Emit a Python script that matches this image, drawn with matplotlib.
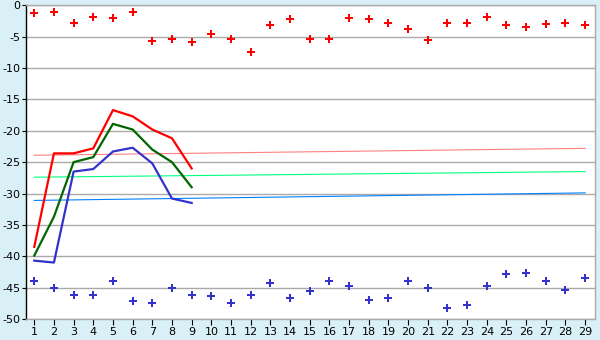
import numpy as np
import matplotlib
matplotlib.use('Agg')
from matplotlib import pyplot as plt

plt.rcParams['axes.unicode_minus'] = False

# valores
dias = list(range(1, 30))
dias_lineas = list(range(1, 10))

puntos_rojos = [-1.3, -1.1, -2.9, -1.8, -2.1, -1.0, -5.7, -5.4, -5.9, -4.5,
                -5.4, -7.5, -3.2, -2.2, -5.4, -5.4, -2.1, -2.2, -2.9, -3.7,
                -5.6, -2.9, -2.9, -1.8, -3.2, -3.5, -3.0, -2.9, -3.2]
puntos_azules = [-44.0, -45.1, -46.1, -46.2, -44.0, -47.2, -47.5, -45.1, -46.2, -46.4,
                 -47.4, -46.2, -44.2, -46.7, -45.6, -44.0, -44.7, -46.9, -46.6, -44.0,
                 -45.0, -48.3, -47.7, -44.7, -42.9, -42.7, -43.9, -45.3, -43.5]

linea_roja = [-38.5, -23.6, -23.6, -22.8, -16.7, -17.7, -19.8, -21.2, -26.0]
linea_verde = [-39.9, -33.7, -25.0, -24.2, -18.9, -19.8, -23.0, -25.0, -29.0]
linea_azul = [-40.7, -41.0, -26.5, -26.1, -23.3, -22.7, -25.2, -30.8, -31.5]

# lineas de tendencia (inicio y final)
tend_x = [1, 29]
tend_roja = [-23.9, -22.8]
tend_verde = [-27.4, -26.5]
tend_azul = [-31.1, -29.9]

fondo = '#d9f0f7'
fig = plt.figure(figsize=(6, 3.4), dpi=100, facecolor=fondo)
ax = fig.add_axes([26/600, 1 - 319/340, (595 - 26)/600, (319 - 5.3)/340])
ax.set_facecolor('white')

ax.plot(tend_x, tend_roja, color='#ff8080', lw=0.8)
ax.plot(tend_x, tend_verde, color='#00ff80', lw=0.8)
ax.plot(tend_x, tend_azul, color='#0080ff', lw=0.8)

ax.plot(dias_lineas, linea_roja, color='#ff0000', lw=1.6)
ax.plot(dias_lineas, linea_verde, color='#006600', lw=1.6)
ax.plot(dias_lineas, linea_azul, color='#3333cc', lw=1.6)

ax.plot(dias, puntos_rojos, ls='none', marker='P', ms=5.5, color='#ff0000', mew=0)
ax.plot(dias, puntos_azules, ls='none', marker='P', ms=5.5, color='#3333cc', mew=0)

ax.set_xlim(0.58, 29.5)
ax.set_ylim(-50, 0)
ax.set_xticks(dias)
ax.set_yticks(np.arange(-50, 1, 5))
ax.yaxis.grid(True, color='#aaaaaa', lw=1)
ax.set_axisbelow(True)
for s in ax.spines.values():
    s.set_color('#aaaaaa')
    s.set_linewidth(1)
ax.spines['left'].set_color('#000000')
ax.tick_params(axis='both', labelsize=8, length=4, color='#000000', pad=2)
ax.tick_params(axis='y', length=3, pad=1)

fig.savefig('out.png', dpi=100, facecolor=fondo)
